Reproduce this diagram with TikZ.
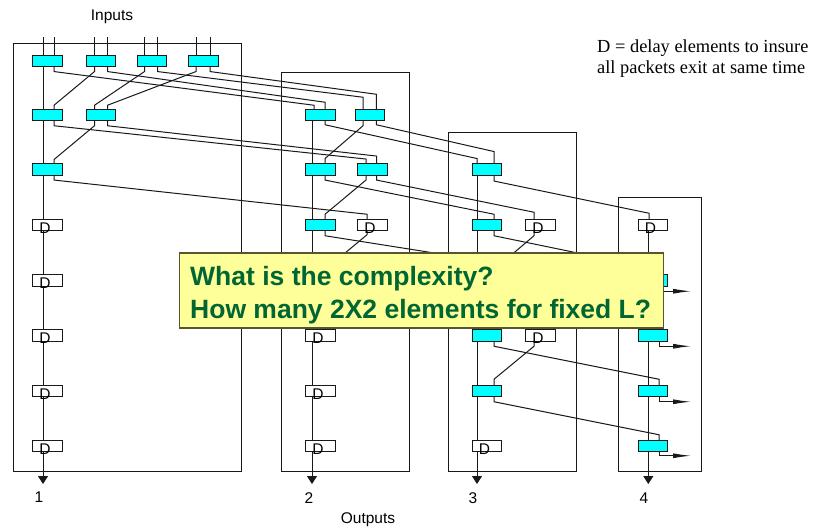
\documentclass[tikz,border=0pt]{standalone}
\usepackage{fontspec}
\setmainfont{Liberation Sans}
\newfontfamily\notefont{Liberation Serif}
\usetikzlibrary{arrows.meta,backgrounds}
\definecolor{swcyan}{HTML}{00FFFF}
\definecolor{askfill}{HTML}{FFFF99}
\definecolor{askedge}{HTML}{55552F}
\definecolor{askgreen}{HTML}{006633}
\tikzset{
  swbox/.style={draw=black!90, line width=1pt, fill=swcyan, minimum width=29.5, minimum height=11.5, inner sep=0pt, outer sep=0pt},
  delbox/.style={draw=black!90, line width=1pt, fill=white, minimum width=29.5, minimum height=11.5, inner sep=0pt, outer sep=0pt,
    label={[inner sep=0pt, font=\fontsize{15.5}{18}\selectfont, xshift=-2.5, yshift=-3]center:D}},
  framebox/.style={draw=black!90, line width=1pt, anchor=north west, inner sep=0pt, outer sep=0pt},
  textlabel/.style={font=\fontsize{15.5}{18}\selectfont, inner sep=0pt},
  notetext/.style={font=\notefont\fontsize{18.4}{21}\selectfont, align=left, anchor=north west, inner sep=0pt},
  askbox/.style={draw=askedge, line width=1.2pt, fill=askfill, anchor=north west, minimum width=484, minimum height=75, inner sep=0pt, outer sep=0pt},
  asktext/.style={font=\bfseries\fontsize{26.5}{32}\selectfont, text=askgreen, align=left, anchor=west, inner sep=0pt},
  wire/.style={black!90, line width=1pt},
  outarrow/.style={wire, -{Triangle[length=8, width=10]}},
  exitarrow/.style={wire, -{Latex[length=18, width=5]}}
}
\begin{document}
\begin{tikzpicture}[x=1pt, y=-1pt]
  \useasboundingbox (0,0) rectangle (814,529);

  % first stage
  \node[swbox] (sw10a) at (47.5,60.8) {};
  \node[swbox] (sw10b) at (101,60.8) {};
  \node[swbox] (sw10c) at (152,60.8) {};
  \node[swbox] (sw10d) at (203.5,60.8) {};
  \node[swbox] (sw11a) at (47.5,115) {};
  \node[swbox] (sw11b) at (101,115) {};
  \node[swbox] (sw12a) at (47.5,169.3) {};
  \node[delbox] (del13) at (47.5,225) {};
  \node[delbox] (del14) at (47.5,280.5) {};
  \node[delbox] (del15) at (47.5,335.5) {};
  \node[delbox] (del16) at (47.5,391) {};
  \node[delbox] (del17) at (47.5,446) {};

  % second stage
  \node[swbox] (sw21a) at (320.5,115) {};
  \node[swbox] (sw21b) at (369.75,115) {};
  \node[swbox] (sw22a) at (320.5,169.3) {};
  \node[swbox] (sw22b) at (372.5,169.3) {};
  \node[swbox] (sw23a) at (320.5,225) {};
  \node[delbox] (del23b) at (372.5,225) {};
  \node[swbox] (sw24a) at (320.5,280.5) {};
  \node[delbox] (del25) at (320.5,335.5) {};
  \node[delbox] (del26) at (320.5,391) {};
  \node[delbox] (del27) at (320.5,446) {};

  % third stage
  \node[swbox] (sw32a) at (487,169.3) {};
  \node[swbox] (sw33a) at (487,225) {};
  \node[delbox] (del33b) at (540.5,225) {};
  \node[swbox] (sw34a) at (487,280.5) {};
  \node[delbox] (del34b) at (540.5,280.5) {};
  \node[swbox] (sw35a) at (487,335.5) {};
  \node[delbox] (del35b) at (540.5,335.5) {};
  \node[swbox] (sw36a) at (487,391) {};
  \node[delbox] (del37) at (487,446) {};

  % fourth stage
  \node[delbox] (del43) at (653,225) {};
  \node[swbox] (sw44) at (653,280.5) {};
  \node[swbox] (sw45) at (653,335.5) {};
  \node[swbox] (sw46) at (653,391) {};
  \node[swbox] (sw47) at (653,446) {};

  \node[textlabel] (inputs) at (112,17) {Inputs};
  \node[textlabel] (outputs) at (368,520) {Outputs};
  \node[textlabel] (lab1) at (39,497) {1};
  \node[textlabel] (lab2) at (309,498) {2};
  \node[textlabel] (lab3) at (473,498) {3};
  \node[textlabel] (lab4) at (644,498) {4};
  \node[notetext] (note) at (597,39.5) {D = delay elements to insure\\all packets exit at same time};

  \coordinate (out1) at (43,484);
  \coordinate (out2) at (312,484);
  \coordinate (out3) at (477,484);
  \coordinate (out4) at (648.3,484);

  \begin{scope}[on background layer]
    \node[framebox, minimum width=228, minimum height=427.3] (frame1) at (13,44) {};
    \node[framebox, minimum width=127.6, minimum height=398.6] (frame2) at (281.7,72.7) {};
    \node[framebox, minimum width=128.5, minimum height=338.6] (frame3) at (448.3,132.7) {};
    \node[framebox, minimum width=82.7, minimum height=273.6] (frame4) at (618.3,197.7) {};

    % through lines
    \draw[outarrow] ([xshift=-4.5,yshift=18]sw10a.north) -- (out1);
    \draw[outarrow] ([xshift=-8.5]sw21a.south) -- (out2);
    \draw[outarrow] ([xshift=-10]sw32a.south) -- (out3);
    \draw[outarrow] ([xshift=-4.7]del43.south) -- (out4);

    % inputs
    \draw[wire] ([xshift=6.5]sw10a.north) -- ++(0,-18);
    \draw[wire] ([xshift=-6.5]sw10b.north) -- ++(0,-18);
    \draw[wire] ([xshift=6.5]sw10b.north) -- ++(0,-18);
    \draw[wire] ([xshift=-7.5]sw10c.north) -- ++(0,-18);
    \draw[wire] ([xshift=5.5]sw10c.north) -- ++(0,-18);
    \draw[wire] ([xshift=-7.5]sw10d.north) -- ++(0,-18);
    \draw[wire] ([xshift=6.5]sw10d.north) -- ++(0,-18);

    % first stage, inside
    \draw[wire] ([xshift=-6.5]sw10b.south) -- ++(0,5) -- ([xshift=6.5,yshift=4]sw11a.north) -- ([xshift=6.5]sw11a.north);
    \draw[wire] ([xshift=-7.5]sw10c.south) -- ++(0,5) -- ([xshift=-6.5,yshift=4]sw11b.north) -- ([xshift=-6.5]sw11b.north);
    \draw[wire] ([xshift=-7.5]sw10d.south) -- ++(0,5) -- ([xshift=6.5,yshift=4]sw11b.north) -- ([xshift=6.5]sw11b.north);
    \draw[wire] ([xshift=-6.5]sw11b.south) -- ++(0,5) -- ([xshift=6.5,yshift=4]sw12a.north) -- ([xshift=6.5]sw12a.north);

    % first stage to second stage
    \draw[wire] ([xshift=6.5]sw10a.south) -- ++(0,5) -- ([xshift=-6.5,yshift=4]sw21a.north) -- ([xshift=-6.5]sw21a.north);
    \draw[wire] ([xshift=6.5]sw10b.south) -- ++(0,5) -- ([xshift=4.5,yshift=7]sw21a.north) -- ([xshift=4.5]sw21a.north);
    \draw[wire] ([xshift=5.5]sw10c.south) -- ++(0,5) -- ([xshift=-6.75,yshift=12]sw21b.north) -- ([xshift=-6.75]sw21b.north);
    \draw[wire] ([xshift=6.5]sw10d.south) -- ++(0,5) -- ([xshift=6.5,yshift=15]sw21b.north) -- ([xshift=6.5]sw21b.north);
    \draw[wire] ([xshift=6.5]sw11a.south) -- ++(0,5) -- ([xshift=-6.5,yshift=4.5]sw22b.north) -- ([xshift=-6.5]sw22b.north);
    \draw[wire] ([xshift=6.5]sw11b.south) -- ++(0,5) -- ([xshift=4,yshift=7.5]sw22b.north) -- ([xshift=4]sw22b.north);
    \draw[wire] ([xshift=6.5]sw12a.south) -- ++(0,5) -- ([xshift=-5.5,yshift=5]del23b.north) -- ([xshift=-5.5]del23b.north);

    % second stage, inside
    \draw[wire] ([xshift=-6.75]sw21b.south) -- ++(0,5) -- ([xshift=4.5,yshift=5]sw22a.north) -- ([xshift=4.5]sw22a.north);
    \draw[wire] ([xshift=-6.5]sw22b.south) -- ++(0,5) -- ([xshift=4.5,yshift=5]sw23a.north) -- ([xshift=4.5]sw23a.north);
    \draw[wire] ([xshift=-5.5]del23b.south) -- ++(0,4) -- ([xshift=4.5,yshift=5]sw24a.north) -- ([xshift=4.5]sw24a.north);

    % second stage to third stage
    \draw[wire] ([xshift=4.5]sw21a.south) -- ++(0,4) -- ([xshift=-10,yshift=5]sw32a.north) -- ([xshift=-10]sw32a.north);
    \draw[wire] ([xshift=6.5]sw21b.south) -- ++(0,4) -- ([xshift=7,yshift=12]sw32a.north) -- ([xshift=7]sw32a.north);
    \draw[wire] ([xshift=4.5]sw22a.south) -- ++(0,5) -- ([xshift=7,yshift=5]sw33a.north) -- ([xshift=7]sw33a.north);
    \draw[wire] ([xshift=4]sw22b.south) -- ++(0,5) -- ([xshift=-6.5,yshift=7]del33b.north) -- ([xshift=-6.5]del33b.north);
    \draw[wire] ([xshift=4.5]sw23a.south) -- ++(0,5) -- ([xshift=-6.5,yshift=6]del34b.north) -- ([xshift=-6.5]del34b.north);
    \draw[wire] ([xshift=4.5]sw24a.south) -- ++(0,5) -- ([xshift=-6.5,yshift=5]del35b.north) -- ([xshift=-6.5]del35b.north);

    % third stage, inside
    \draw[wire] ([xshift=-6.5]del33b.south) -- ++(0,5) -- ([xshift=7,yshift=5]sw34a.north) -- ([xshift=7]sw34a.north);
    \draw[wire] ([xshift=-6.5]del34b.south) -- ++(0,5) -- ([xshift=7,yshift=5]sw35a.north) -- ([xshift=7]sw35a.north);
    \draw[wire] ([xshift=-6.5]del35b.south) -- ++(0,5) -- ([xshift=7,yshift=6]sw36a.north) -- ([xshift=7]sw36a.north);

    % third stage to fourth stage
    \draw[wire] ([xshift=7]sw32a.south) -- ++(0,6) -- ([xshift=-4,yshift=6]del43.north) -- ([xshift=-4]del43.north);
    \draw[wire] ([xshift=7]sw33a.south) -- ++(0,5) -- ([xshift=6,yshift=5]sw44.north) -- ([xshift=6]sw44.north);
    \draw[wire] ([xshift=7]sw34a.south) -- ++(0,5) -- ([xshift=6,yshift=5]sw45.north) -- ([xshift=6]sw45.north);
    \draw[wire] ([xshift=7]sw35a.south) -- ++(0,5) -- ([xshift=6,yshift=6]sw46.north) -- ([xshift=6]sw46.north);
    \draw[wire] ([xshift=7]sw36a.south) -- ++(0,5) -- ([xshift=6,yshift=5.5]sw47.north) -- ([xshift=6]sw47.north);

    % exits
    \draw[exitarrow] ([xshift=6]sw44.south) -- ++(0,5) -- ++(32,0);
    \draw[exitarrow] ([xshift=6]sw45.south) -- ++(0,5) -- ++(32,0);
    \draw[exitarrow] ([xshift=6]sw46.south) -- ++(0,5) -- ++(32,0);
    \draw[exitarrow] ([xshift=6]sw47.south) -- ++(0,4) -- ++(32,0);
  \end{scope}

  \node[askbox] (ask) at (179.3,253) {};
  \node[asktext] (asktop) at (190,279) {What is the complexity?};
  \node[asktext] (askbottom) at (190,312) {How many 2X2 elements for fixed L?};
\end{tikzpicture}
\end{document}
